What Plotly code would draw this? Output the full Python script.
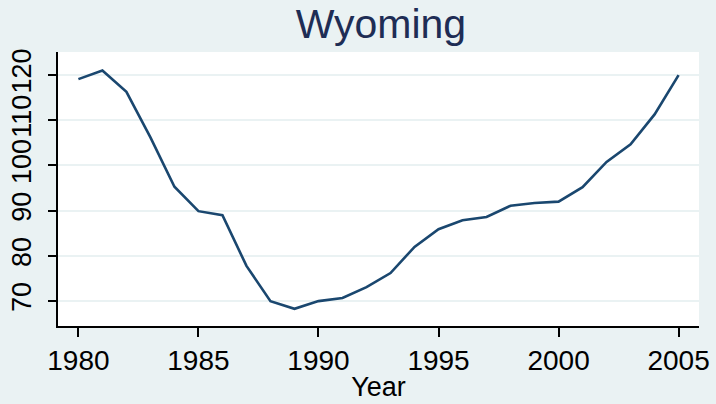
import plotly.graph_objects as go

years = list(range(1980, 2006))
values = [119.1, 121.0, 116.3, 106.2, 95.3, 89.9, 89.0, 77.8, 70.0, 68.3,
          70.0, 70.7, 73.1, 76.2, 82.0, 85.9, 87.9, 88.6, 91.1, 91.7,
          92.0, 95.2, 100.8, 104.7, 111.3, 120.0]
x_ticks = [1980, 1985, 1990, 1995, 2000, 2005]
y_ticks = [70, 80, 90, 100, 110, 120]
title_text = "Wyoming"
x_title = "Year"

bg = "#eaf2f3"
fig = go.Figure()
fig.add_trace(go.Scatter(x=years, y=values, mode="lines",
                         line=dict(color="#1a476f", width=2.6),
                         hoverinfo="x+y", showlegend=False))

fig.update_layout(
    width=716, height=404,
    paper_bgcolor=bg, plot_bgcolor="white",
    margin=dict(l=58, r=17, t=52, b=78),
    title=dict(text=title_text, x=0.532, xanchor="center", y=0.977, yanchor="top",
               font=dict(family="Liberation Sans, Arial, sans-serif", size=41, color="#1e2d55")),
    font=dict(family="Liberation Sans, Arial, sans-serif", color="black"),
)
fig.update_xaxes(
    range=[1979.15, 2005.85], tickvals=x_ticks, ticktext=[str(v) for v in x_ticks],
    showgrid=False, zeroline=False, automargin=False,
    showline=True, linecolor="black", linewidth=1.5,
    ticks="outside", ticklen=9, tickwidth=1.5, tickcolor="black",
    tickfont=dict(size=28, family="Liberation Sans, Arial, sans-serif"),
    ticklabeloverflow="allow",
    title=dict(text=x_title, font=dict(size=27), standoff=2),
)
fig.update_yaxes(
    range=[64.5, 125.1], tickvals=y_ticks, ticktext=[str(v) for v in y_ticks],
    tickangle=-90, automargin=False,
    showgrid=True, gridcolor=bg, gridwidth=2, zeroline=False,
    showline=True, linecolor="black", linewidth=1.5,
    ticks="outside", ticklen=8, tickwidth=1.5, tickcolor="black",
    ticklabelstandoff=6,
    tickfont=dict(size=27, family="Liberation Sans Narrow, Arial Narrow, Liberation Sans, sans-serif"),
)
fig.write_html("out.html", config={"displayModeBar": False},
               post_script="document.body.style.margin='0';")
